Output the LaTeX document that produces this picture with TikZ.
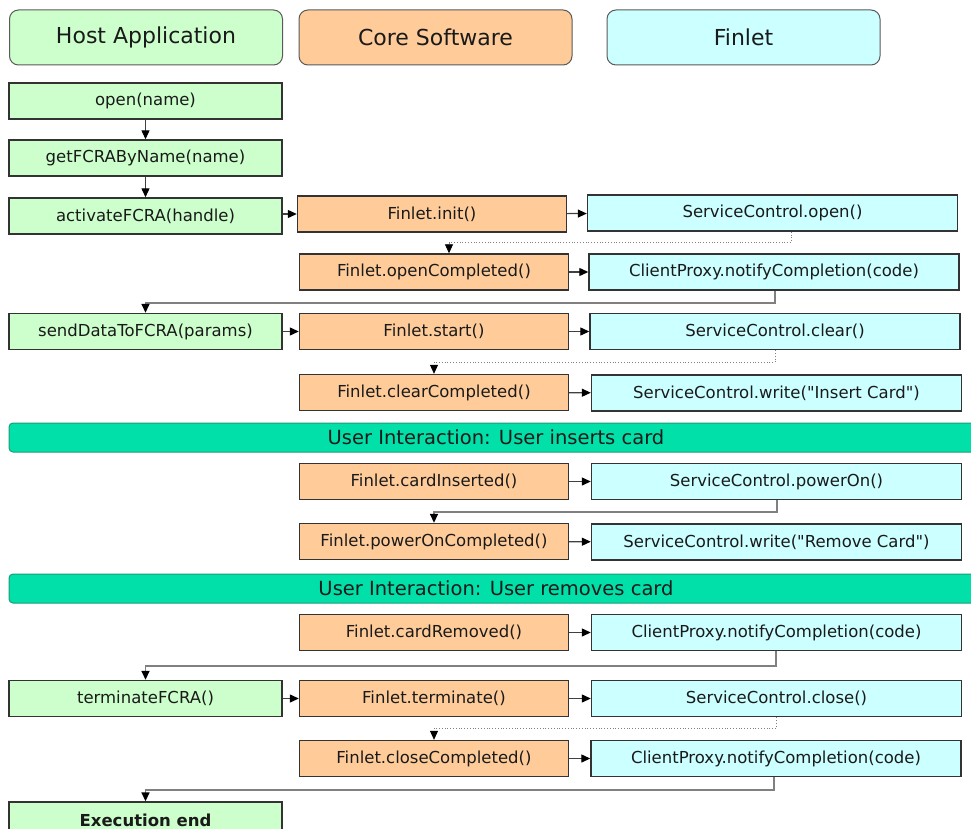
\documentclass[tikz,border=0pt]{standalone}
\usepackage{fontspec}
\setmainfont{DejaVu Sans}[Ligatures=TeXOff]
\usetikzlibrary{arrows.meta,calc}

\definecolor{hostfill}{HTML}{CCFFCC}
\definecolor{corefill}{HTML}{FFCC99}
\definecolor{finfill}{HTML}{CCFFFF}
\definecolor{boxline}{HTML}{333333}
\definecolor{headline}{HTML}{5A5A5A}
\definecolor{bannerfill}{HTML}{00E0A8}
\definecolor{bannerline}{HTML}{1C9C78}
\definecolor{retgray}{HTML}{808080}
\definecolor{txt}{HTML}{1A1A1A}

\begin{document}
\begin{tikzpicture}[x=1pt,y=-1pt,
  box/.style={draw=boxline, line width=1.4pt, inner sep=0pt, minimum height=36,
    text=txt, font=\fontsize{16.5}{19}\selectfont},
  hostbox/.style={box, fill=hostfill, minimum width=273},
  corebox/.style={box, fill=corefill, minimum width=269},
  finbox/.style={box, fill=finfill, minimum width=370},
  head/.style={draw=headline, line width=1pt, rounded corners=9pt, inner sep=0pt,
    minimum width=273, minimum height=55, text=txt, font=\fontsize{22}{26}\selectfont},
  banner/.style={draw=bannerline, fill=bannerfill, line width=1pt, rounded corners=4pt,
    inner sep=0pt, minimum width=974, minimum height=29, text=txt,
    font=\fontsize{19.5}{23}\selectfont},
  tip/.style={-{Triangle[length=9pt,width=8pt,color=black]}},
  call/.style={tip, draw=black!75, line width=1.2pt},
  ret/.style={tip, draw=retgray, line width=1.6pt},
  dotret/.style={tip, draw=retgray, line width=0.8pt, dotted},
]
\useasboundingbox[fill=white] (0,0) rectangle (971,829);

% column headers
\node[head, fill=hostfill] (hhost) at (146,37.5) {Host Application};
\node[head, fill=corefill] (hcore) at (435.5,37.5) {Core Software};
\node[head, fill=finfill]  (hfin)  at (743.5,37.5) {Finlet};

% host application calls
\node[hostbox] (open)     at (145.5,101) {open(name)};
\node[hostbox] (getfcra)  at (145.5,158) {getFCRAByName(name)};
\node[hostbox] (activate) at (145.5,216) {activateFCRA(handle)};
\node[hostbox] (senddata) at (145.5,331.5) {sendDataToFCRA(params)};
\node[hostbox] (terminate) at (145.5,698.5) {terminateFCRA()};
\node[hostbox, font=\fontsize{16.5}{19}\selectfont\bfseries] (execend) at (145.5,820) {Execution end};

% core software
\node[corebox] (init)      at (432,214) {Finlet.init()};
\node[corebox] (opencomp)  at (434,272)  {Finlet.openCompleted()};
\node[corebox] (start)     at (434,331.5)  {Finlet.start()};
\node[corebox] (clearcomp) at (434,392.5)  {Finlet.clearCompleted()};
\node[corebox] (cardins)   at (434,481.5)  {Finlet.cardInserted()};
\node[corebox] (powercomp) at (434,541.5)  {Finlet.powerOnCompleted()};
\node[corebox] (cardrem)   at (434,632.5)  {Finlet.cardRemoved()};
\node[corebox] (fterm)     at (434,698.5)  {Finlet.terminate()};
\node[corebox] (closecomp) at (434,758.5)  {Finlet.closeCompleted()};

% finlet services
\node[finbox] (svcopen)   at (772.5,213) {ServiceControl.open()};
\node[finbox] (notify1)   at (774,272)   {ClientProxy.notifyCompletion(code)};
\node[finbox] (svcclear)  at (775,331.5) {ServiceControl.clear()};
\node[finbox] (svcwrite1) at (776.5,393) {ServiceControl.write("Insert Card")};
\node[finbox] (svcpower)  at (776.5,481.5) {ServiceControl.powerOn()};
\node[finbox] (svcwrite2) at (776.5,542) {ServiceControl.write("Remove Card")};
\node[finbox] (notify2)   at (776.5,632.5) {ClientProxy.notifyCompletion(code)};
\node[finbox] (svcclose)  at (776.5,698.5) {ServiceControl.close()};
\node[finbox] (notify3)   at (776,758.5)   {ClientProxy.notifyCompletion(code)};

% user interaction banners
\node[banner] (ui1) at (496,437.5) {User Interaction: User inserts card};
\node[banner] (ui2) at (496,588.5) {User Interaction: User removes card};

% sequential host calls
\draw[call] (open) -- (getfcra);
\draw[call] (getfcra) -- (activate);

% calls across columns
\draw[call] (activate.east |- init) -- (init.west);
\draw[call] (init) -- (svcopen);
\draw[call] (opencomp) -- (notify1);
\draw[call] (senddata) -- (start);
\draw[call] (start) -- (svcclear);
\draw[call] (clearcomp) -- (svcwrite1);
\draw[call] (cardins) -- (svcpower);
\draw[call] (powercomp) -- (svcwrite2);
\draw[call] (cardrem) -- (notify2);
\draw[call] (terminate) -- (fterm);
\draw[call] (fterm) -- (svcclose);
\draw[call] (closecomp) -- (notify3);

% asynchronous completions (dotted) and returns (solid)
\draw[dotret] ([xshift=18.5]svcopen.south) -- ++(0,11) -| ([xshift=15]opencomp.north);
\draw[ret]    ([xshift=1]notify1.south) -- ++(0,12) -| (senddata.north);
\draw[dotret] ([xshift=0]svcclear.south) -- ++(0,12) -| (clearcomp.north);
\draw[ret]    ([xshift=0.5]svcpower.south) -- ++(0,12) -| (powercomp.north);
\draw[ret]    ([xshift=-0.5]notify2.south) -- ++(0,15) -| (terminate.north);
\draw[dotret] ([xshift=-0.5]svcclose.south) -- ++(0,11) -| (closecomp.north);
\draw[ret]    ([xshift=-2]notify3.south) -- ++(0,13) -| (execend.north);
\end{tikzpicture}
\end{document}
